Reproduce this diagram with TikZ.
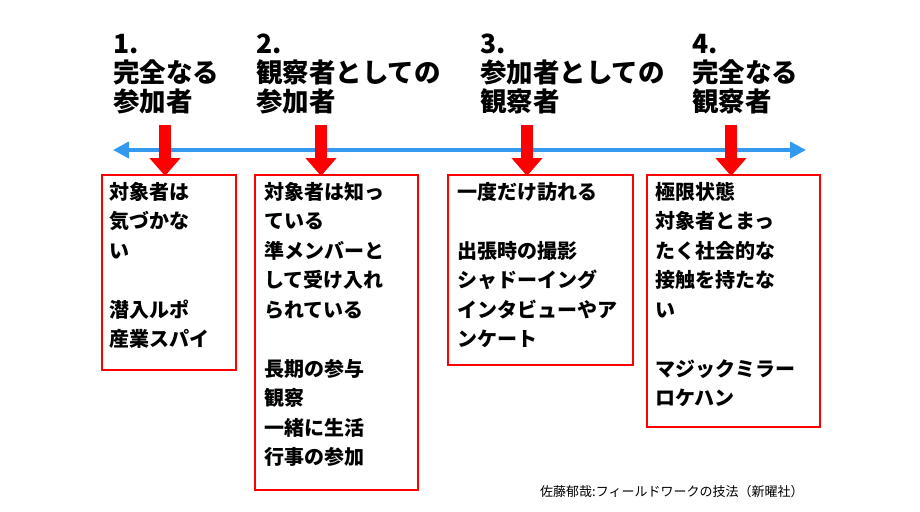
\documentclass[tikz,border=0pt]{standalone}
\usepackage{fontspec}
\setmainfont{Noto Sans CJK JP}
\usetikzlibrary{arrows.meta}
\tikzset{
  head/.style={anchor=north west,align=left,inner sep=0pt,font=\fontsize{26.5}{29}\selectfont\bfseries},
  body/.style={anchor=north west,align=left,inner sep=0pt,font=\fontsize{20}{29.5}\selectfont\bfseries},
  rbox/.style={draw=red,line width=2pt},
  rarrow/.style={red,line width=12pt,-{Triangle[width=30pt,length=18pt]}},
}
\begin{document}
\begin{tikzpicture}[x=1pt,y=-1pt]
\useasboundingbox (0,0) rectangle (920,511);
\node[head] (h1) at (113,34) {1.\\完全なる\\参加者};
\node[head] (h2) at (256,34) {2.\\観察者としての\\参加者};
\node[head] (h3) at (480,34) {3.\\参加者としての\\観察者};
\node[head] (h4) at (692,34) {4.\\完全なる\\観察者};
\coordinate (la) at (113,150);
\coordinate (ra) at (806,150);
\draw[color={rgb,255:red,51;green,153;blue,238},line width=4.5pt,{Triangle[width=16pt,length=16pt]}-{Triangle[width=16pt,length=16pt]}] (la) -- (ra);
\draw[rbox] (102,175) rectangle (236,370);
\draw[rbox] (255,175) rectangle (418,490);
\draw[rbox] (448,175) rectangle (633,365);
\draw[rbox] (647,175) rectangle (820,427);
\coordinate (t1) at (165,125); \coordinate (b1) at (165,176);
\coordinate (t2) at (321,125); \coordinate (b2) at (321,176);
\coordinate (t3) at (527,125); \coordinate (b3) at (527,176);
\coordinate (t4) at (731,125); \coordinate (b4) at (731,176);
\draw[rarrow] (t1) -- (b1);
\draw[rarrow] (t2) -- (b2);
\draw[rarrow] (t3) -- (b3);
\draw[rarrow] (t4) -- (b4);
\node[body] (c1) at (109,182) {対象者は\\気づかな\\い\\[29.5pt]潜入ルポ\\産業スパイ};
\node[body] (c2) at (264,182) {対象者は知っ\\ている\\準メンバーと\\して受け入れ\\られている\\[29.5pt]長期の参与\\観察\\一緒に生活\\行事の参加};
\node[body] (c3) at (457,182) {一度だけ訪れる\\[29.5pt]出張時の撮影\\シャドーイング\\インタビューやア\\ンケート};
\node[body] (c4) at (655,182) {極限状態\\対象者とまっ\\たく社会的な\\接触を持たな\\い\\[29.5pt]マジックミラー\\ロケハン};
\node[anchor=west,inner sep=0pt,font=\fontsize{13}{14}\selectfont] (cap) at (540,492) {佐藤郁哉:フィールドワークの技法（新曜社）};
\end{tikzpicture}
\end{document}
